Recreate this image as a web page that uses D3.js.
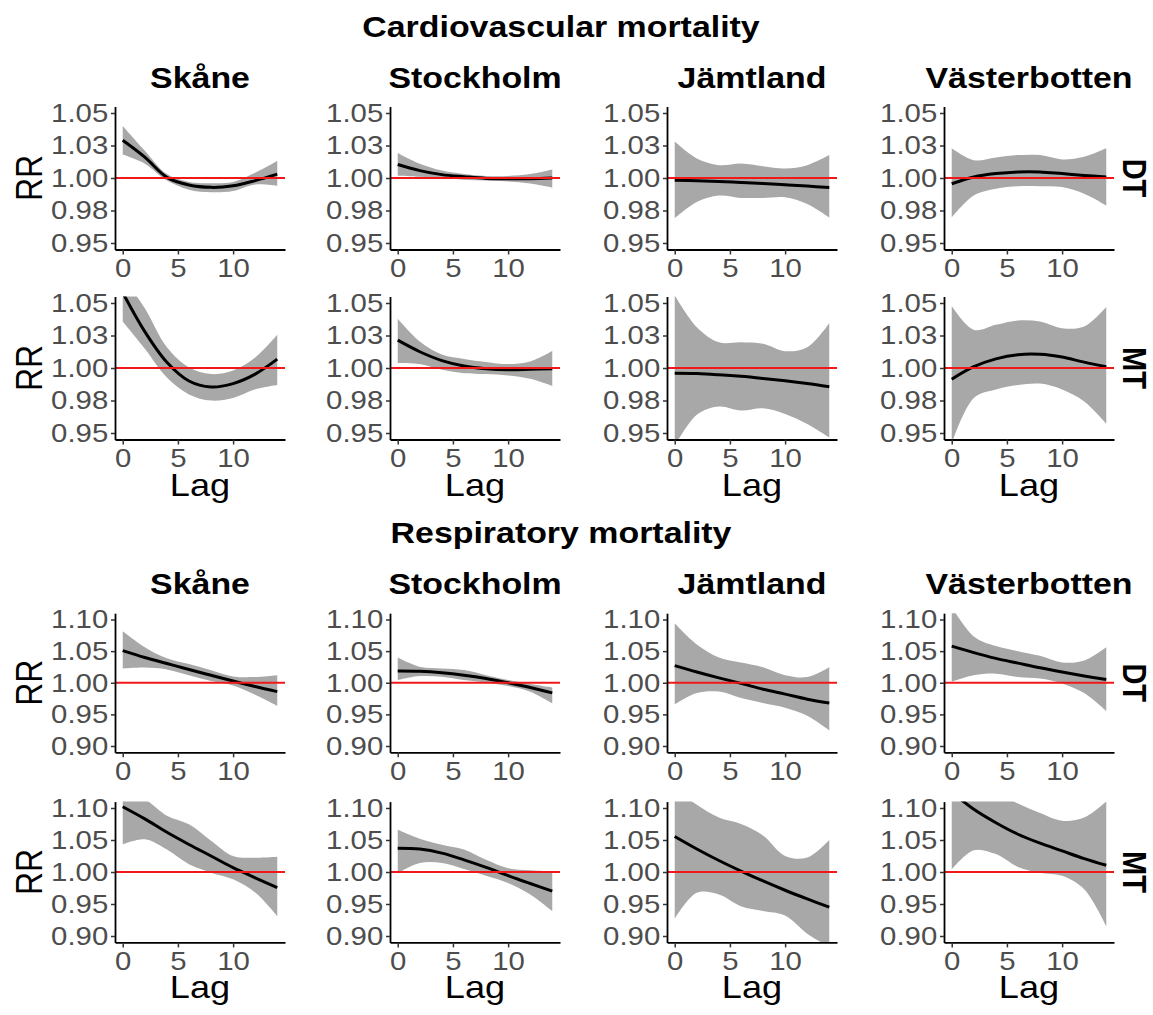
<!DOCTYPE html>
<html lang="en">
<head>
<meta charset="utf-8">
<title>RR by lag</title>
<script src="https://cdn.jsdelivr.net/npm/d3@7"></script>
<style>
body { margin: 0; background: #fff; }
svg { font-family: "Liberation Sans", Arial, sans-serif; }
.title { font-weight: 700; font-size: 30px; fill: #000; }
.strip { font-weight: 700; font-size: 29px; fill: #000; }
.axtitle { font-size: 32px; fill: #000; }
</style>
</head>
<body>
<div id="chart"></div>
<script>

// source text looks a bit wider than tall, so text gets stretched in x
var S = 1.13;

var lags = [0, 2, 4, 6, 8, 10, 12, 14];
var regions = ["Skåne", "Stockholm", "Jämtland", "Västerbotten"];
var models = ["DT", "MT"];
var outcomes = ["Cardiovascular mortality", "Respiratory mortality"];

var cvTicks = [0.95, 0.975, 1, 1.025, 1.05];
var cvTickLabels = ["0.95", "0.98", "1.00", "1.03", "1.05"];
var respTicks = [0.90, 0.95, 1, 1.05, 1.10];
var respTickLabels = ["0.90", "0.95", "1.00", "1.05", "1.10"];
var xTicks = [0, 5, 10];

// one row per region (Skåne, Stockholm, Jämtland, Västerbotten), values at lags above
var cvDT_fit = [
  [1.029, 1.016, 1.0005, 0.9946, 0.9928, 0.994, 0.998, 1.003],
  [1.0104, 1.0057, 1.0026, 1.001, 0.9997, 0.9995, 0.9995, 1.0],
  [0.9982, 0.9979, 0.9974, 0.9966, 0.9958, 0.9948, 0.9938, 0.9927],
  [0.9956, 1.0008, 1.0034, 1.0047, 1.0047, 1.0034, 1.002, 1.0008]];
var cvDT_lo = [
  [1.018, 1.011, 0.998, 0.991, 0.989, 0.990, 0.995, 0.994],
  [1.0018, 1.001, 1.0, 0.9987, 0.998, 0.9974, 0.9958, 0.9927],
  [0.969, 0.9815, 0.9865, 0.9847, 0.9847, 0.9852, 0.98, 0.9696],
  [0.9697, 0.9866, 0.9918, 0.9936, 0.9936, 0.993, 0.9879, 0.9788]];
var cvDT_hi = [
  [1.040, 1.021, 1.003, 0.997, 0.996, 0.997, 1.004, 1.013],
  [1.0193, 1.011, 1.0057, 1.003, 1.0016, 1.0016, 1.003, 1.0065],
  [1.028, 1.015, 1.0099, 1.0112, 1.0091, 1.0073, 1.0099, 1.0177],
  [1.0228, 1.0137, 1.0158, 1.0176, 1.0176, 1.0143, 1.0163, 1.0228]];

var cvMT_fit = [
  [1.058, 1.028, 1.0044, 0.990, 0.9854, 0.988, 0.9953, 1.0068],
  [1.0214, 1.0125, 1.0057, 1.0016, 0.9995, 0.9987, 0.999, 0.9995],
  [0.9959, 0.9957, 0.9948, 0.9936, 0.992, 0.9902, 0.9881, 0.9856],
  [0.9914, 1.001, 1.007, 1.0102, 1.0105, 1.0084, 1.0045, 1.001]];
var cvMT_lo = [
  [1.0357, 1.0148, 0.9927, 0.9797, 0.975, 0.977, 0.9836, 0.987],
  [1.0039, 1.003, 0.9987, 0.996, 0.9953, 0.9943, 0.9917, 0.9862],
  [0.94, 0.964, 0.9704, 0.9673, 0.969, 0.9647, 0.957, 0.9466],
  [0.942, 0.977, 0.9835, 0.9869, 0.988, 0.9835, 0.9743, 0.9573]];
var cvMT_hi = [
  [1.07, 1.046, 1.016, 1.0005, 0.9953, 0.998, 1.008, 1.0255],
  [1.0378, 1.0203, 1.0104, 1.007, 1.0047, 1.003, 1.005, 1.013],
  [1.056, 1.0314, 1.0198, 1.0198, 1.0186, 1.0129, 1.016, 1.0345],
  [1.0476, 1.0293, 1.0332, 1.0366, 1.0358, 1.0306, 1.032, 1.047]];

var respDT_fit = [
  [1.0509, 1.04, 1.0305, 1.021, 1.0118, 1.0027, 0.994, 0.986],
  [1.0184, 1.018, 1.0158, 1.012, 1.0068, 1.0, 0.9926, 0.984],
  [1.027, 1.017, 1.0077, 0.999, 0.9897, 0.982, 0.974, 0.968],
  [1.058, 1.0477, 1.0385, 1.031, 1.0236, 1.017, 1.0108, 1.005]];
var respDT_lo = [
  [1.0225, 1.024, 1.021, 1.0118, 1.0027, 0.9957, 0.9812, 0.9636],
  [1.0042, 1.0105, 1.0095, 1.0042, 1.0005, 0.9947, 0.9858, 0.9674],
  [0.9656, 0.9836, 0.986, 0.976, 0.968, 0.9605, 0.9477, 0.9246],
  [1.0015, 1.0118, 1.0144, 1.009, 1.0067, 0.999, 0.9836, 0.955]];
var respDT_hi = [
  [1.0814, 1.0563, 1.0386, 1.0295, 1.0198, 1.01, 1.009, 1.0118],
  [1.04, 1.0253, 1.0226, 1.02, 1.012, 1.0042, 0.998, 0.9926],
  [1.094, 1.0605, 1.04, 1.032, 1.0246, 1.012, 1.009, 1.0246],
  [1.12, 1.0733, 1.058, 1.05, 1.0426, 1.032, 1.035, 1.056]];

var respMT_fit = [
  [1.102, 1.083, 1.062, 1.043, 1.025, 1.0068, 0.991, 0.9755],
  [1.0373, 1.0358, 1.0295, 1.019, 1.0073, 0.9943, 0.982, 0.97],
  [1.0555, 1.036, 1.018, 1.0015, 0.986, 0.9715, 0.958, 0.945],
  [1.125, 1.098, 1.077, 1.059, 1.045, 1.033, 1.021, 1.0105]];
var respMT_lo = [
  [1.043, 1.051, 1.035, 1.012, 0.999, 0.9885, 0.968, 0.931],
  [0.998, 1.014, 1.014, 1.0047, 0.9943, 0.983, 0.965, 0.939],
  [0.927, 0.9675, 0.965, 0.9466, 0.939, 0.9319, 0.9037, 0.883],
  [1.004, 1.034, 1.028, 1.008, 0.999, 0.994, 0.973, 0.915]];
var respMT_hi = [
  [1.12, 1.113, 1.088, 1.0745, 1.049, 1.025, 1.0224, 1.024],
  [1.066, 1.052, 1.0425, 1.035, 1.019, 1.006, 1.0026, 1.001],
  [1.13, 1.105, 1.085, 1.075, 1.057, 1.025, 1.0225, 1.05],
  [1.17, 1.15, 1.125, 1.107, 1.092, 1.08, 1.085, 1.11]];

// layout (pixels)
var colLeft = [115, 390, 667, 944],
    panelW = 170;

var rows = [
  {outcome: 0, model: 0, fit: cvDT_fit, lo: cvDT_lo, hi: cvDT_hi, ticks: cvTicks, labels: cvTickLabels, top: 113, bottom: 243},
  {outcome: 0, model: 1, fit: cvMT_fit, lo: cvMT_lo, hi: cvMT_hi, ticks: cvTicks, labels: cvTickLabels, top: 303, bottom: 433},
  {outcome: 1, model: 0, fit: respDT_fit, lo: respDT_lo, hi: respDT_hi, ticks: respTicks, labels: respTickLabels, top: 619.5, bottom: 746},
  {outcome: 1, model: 1, fit: respMT_fit, lo: respMT_lo, hi: respMT_hi, ticks: respTicks, labels: respTickLabels, top: 808, bottom: 936}
];
var titleY = [37, 543];

var svg = d3.select("#chart")
  .append("svg")
  .attr("width", 1153)
  .attr("height", 1015);

svg.append("rect").attr("width", 1153).attr("height", 1015).attr("fill", "#fff");

var defs = svg.append("defs");

// stretched text helper
function stretchText(sel, x, y, rot) {
  sel.attr("transform", "translate(" + x + "," + y + ") scale(" + S + ",1)" + (rot ? " rotate(" + rot + ")" : ""));
  return sel;
}

// outcome titles
outcomes.forEach(function(t, i) {
  stretchText(svg.append("text").attr("class", "title").attr("text-anchor", "middle").text(t), 561, titleY[i]);
});

var area = d3.area()
  .x(function(d) { return d.x; })
  .y0(function(d) { return d.y0; })
  .y1(function(d) { return d.y1; })
  .curve(d3.curveCatmullRom);

var line = d3.line()
  .x(function(d) { return d.x; })
  .y(function(d) { return d.y; })
  .curve(d3.curveCatmullRom);

rows.forEach(function(row, r) {
  var tMin = d3.min(row.ticks), tMax = d3.max(row.ticks);
  var pad = (tMax - tMin) * 0.05, pxPad = (row.bottom - row.top) * 0.05;
  var y = d3.scaleLinear()
    .domain([tMin - pad, tMax + pad])
    .range([row.bottom + pxPad, row.top - pxPad]);
  var frameTop = y.range()[1], frameBottom = y.range()[0];
  var rowMid = (frameTop + frameBottom) / 2;

  // RR label
  stretchText(svg.append("text").attr("class", "axtitle").attr("text-anchor", "middle").text("RR"), 42, rowMid, -90);

  // model strip on the right
  stretchText(svg.append("text").attr("class", "strip").attr("text-anchor", "middle").text(models[row.model]), 1123, rowMid, 90);

  regions.forEach(function(region, c) {
    var x = d3.scaleLinear()
      .domain([-0.7, 14.7])
      .range([colLeft[c], colLeft[c] + panelW]);

    // region titles above the first row of each block
    if (row.model === 0) {
      stretchText(svg.append("text").attr("class", "title").attr("text-anchor", "middle").text(region),
        colLeft[c] + panelW / 2, frameTop - 19);
    }

    var clipId = "clip-" + r + "-" + c;
    defs.append("clipPath").attr("id", clipId)
      .append("rect")
      .attr("x", x.range()[0])
      .attr("y", frameTop)
      .attr("width", panelW)
      .attr("height", frameBottom - frameTop);

    var pts = lags.map(function(l, i) {
      return {x: x(l), y: y(row.fit[c][i]), y0: y(row.lo[c][i]), y1: y(row.hi[c][i])};
    });

    var plot = svg.append("g").attr("clip-path", "url(#" + clipId + ")");

    plot.append("path")
      .datum(pts)
      .attr("d", area)
      .attr("fill", "#a8a8a8");

    plot.append("path")
      .datum(pts)
      .attr("d", line)
      .attr("fill", "none")
      .attr("stroke", "#000")
      .attr("stroke-width", 3);

    plot.append("line")
      .attr("x1", x.range()[0])
      .attr("x2", x.range()[1])
      .attr("y1", y(1))
      .attr("y2", y(1))
      .attr("stroke", "#f01818")
      .attr("stroke-width", 1.8);

    // axes
    var yAxis = d3.axisLeft(y)
      .tickValues(row.ticks)
      .tickFormat(function(d) { return row.labels[row.ticks.indexOf(d)]; })
      .tickSize(4).tickPadding(2).tickSizeOuter(0);
    var xAxis = d3.axisBottom(x)
      .tickValues(xTicks)
      .tickSize(5).tickPadding(4).tickSizeOuter(0);

    var gy = svg.append("g")
      .attr("transform", "translate(" + x.range()[0] + ",0)")
      .call(yAxis);
    var gx = svg.append("g")
      .attr("transform", "translate(0," + frameBottom + ")")
      .call(xAxis);

    [gy, gx].forEach(function(g) {
      g.attr("font-family", null).attr("font-size", null);
      g.select(".domain").attr("stroke", "#000").attr("stroke-width", 1.8);
      g.selectAll(".tick line").attr("stroke", "#333").attr("stroke-width", 1.5);
      g.selectAll(".tick text")
        .attr("fill", "#4d4d4d")
        .attr("font-size", 26)
        .attr("transform", "scale(" + S + ",1)");
    });

    // Lag label under the second row of each block
    if (row.model === 1) {
      stretchText(svg.append("text").attr("class", "axtitle").attr("text-anchor", "middle").text("Lag"),
        colLeft[c] + panelW / 2, frameBottom + 56);
    }
  });
});

</script>
</body>
</html>
